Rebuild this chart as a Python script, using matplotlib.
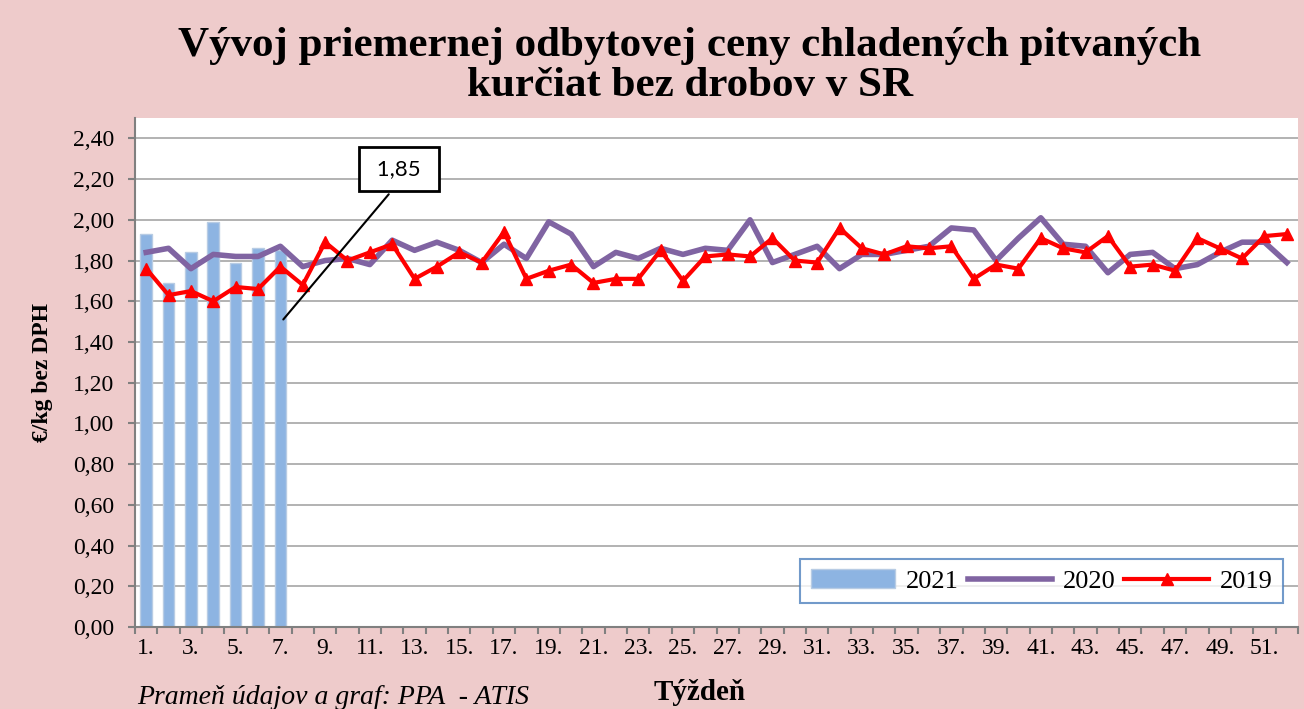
import matplotlib
matplotlib.use("Agg")
import matplotlib.pyplot as plt
from matplotlib.ticker import FuncFormatter, FixedLocator
import numpy as np

weeks = np.arange(1, 53)

# 2021 - stlpce (zatial 7 tyzdnov)
ceny_2021 = [1.93, 1.69, 1.84, 1.99, 1.79, 1.86, 1.85]

ceny_2020 = [1.84, 1.86, 1.76, 1.83, 1.82, 1.82, 1.87, 1.77, 1.80, 1.81,
             1.78, 1.90, 1.85, 1.89, 1.85, 1.79, 1.88, 1.81, 1.99, 1.93,
             1.77, 1.84, 1.81, 1.86, 1.83, 1.86, 1.85, 2.00, 1.79, 1.83,
             1.87, 1.76, 1.83, 1.83, 1.85, 1.87, 1.96, 1.95, 1.80, 1.91,
             2.01, 1.88, 1.87, 1.74, 1.83, 1.84, 1.76, 1.78, 1.84, 1.89,
             1.89, 1.79]

ceny_2019 = [1.76, 1.63, 1.65, 1.60, 1.67, 1.66, 1.77, 1.68, 1.89, 1.80,
             1.84, 1.88, 1.71, 1.77, 1.84, 1.79, 1.94, 1.71, 1.75, 1.78,
             1.69, 1.71, 1.71, 1.85, 1.70, 1.82, 1.83, 1.82, 1.91, 1.80,
             1.79, 1.96, 1.86, 1.83, 1.87, 1.86, 1.87, 1.71, 1.78, 1.76,
             1.91, 1.86, 1.84, 1.92, 1.77, 1.78, 1.75, 1.91, 1.86, 1.81,
             1.92, 1.93]

posledna = "1,85"

pink = "#EECBCB"
serif = "Liberation Serif"

fig = plt.figure(figsize=(13.04, 7.09), dpi=100, facecolor=pink)
ax = fig.add_axes([135/1304, 82/709, 1163/1304, 509/709])
ax.set_facecolor("white")

# stlpce a ciary
b = ax.bar(weeks[:len(ceny_2021)], ceny_2021, width=0.52, color="#8DB4E2",
           edgecolor="#B8CCE4", linewidth=1, zorder=2, label="2021")
l1, = ax.plot(weeks, ceny_2020, color="#8064A2", lw=4, zorder=3, label="2020")
l2, = ax.plot(weeks, ceny_2019, color="#FF0000", lw=3, marker="^", markersize=8,
              zorder=4, label="2019")

ax.set_xlim(0.5, 52.5)
ax.set_ylim(0, 2.5)
ax.set_yticks(np.arange(0, 2.41, 0.2))
ax.yaxis.set_major_formatter(FuncFormatter(lambda v, p: ("%.2f" % v).replace(".", ",")))
ax.grid(axis="y", color="#A6A6A6", lw=1.2, zorder=0)

# tick znacky medzi kategoriami, popisy kazdy druhy tyzden
ax.xaxis.set_major_locator(FixedLocator(np.arange(0.5, 53, 1)))
ax.set_xticklabels([])
ax.xaxis.set_minor_locator(FixedLocator(weeks[::2]))
ax.set_xticklabels(["%d." % w for w in weeks[::2]], minor=True)
ax.tick_params(axis="x", which="minor", length=0, pad=8, labelsize=17)
ax.tick_params(axis="x", which="major", length=5, color="#808080", width=1.5)
ax.tick_params(axis="y", length=5, color="#808080", width=1.5, labelsize=17, pad=10)
for lab in ax.get_xticklabels(minor=True) + ax.get_yticklabels():
    lab.set_fontfamily(serif)

for s in ["top", "right"]:
    ax.spines[s].set_visible(False)
for s in ["left", "bottom"]:
    ax.spines[s].set_color("#808080")
    ax.spines[s].set_linewidth(1.5)

ax.set_ylabel("€/kg bez DPH", fontfamily=serif, fontweight="bold", fontsize=17, labelpad=14)

fig.text(0.529, 1 - 66/709, "Vývoj priemernej odbytovej ceny chladených pitvaných\nkurčiat bez drobov v SR",
         ha="center", va="center", fontfamily=serif, fontweight="bold", fontsize=31,
         linespacing=1.05)

fig.text(137/1304, 1 - 697/709, "Prameň údajov a graf: PPA  - ATIS", ha="left", va="center",
         fontfamily=serif, style="italic", fontsize=20)
fig.text(700/1304, 1 - 693/709, "Týždeň", ha="center", va="center",
         fontfamily=serif, fontweight="bold", fontsize=21)

ax.annotate(" " + posledna + " ", xy=(7.05, 1.5), xytext=(12.3, 2.25),
            fontsize=16, fontfamily="Lato", ha="center", va="center",
            bbox=dict(boxstyle="square,pad=0.55", fc="white", ec="black", lw=2),
            arrowprops=dict(arrowstyle="-", color="black", lw=1.5, relpos=(0.55, 0)),
            zorder=6)

leg = ax.legend([b, l1, l2], ["2021", "2020", "2019"], loc="center",
                bbox_to_anchor=(0.572, 0.034, 0.415, 0.112),
                mode="expand", ncol=3, frameon=True, fancybox=False,
                prop={"family": serif, "size": 19}, handlelength=3.2,
                borderaxespad=0, handletextpad=0.4)
leg.get_frame().set_edgecolor("#4F81BD")
leg.get_frame().set_linewidth(1.5)
leg.set_zorder(7)

fig.savefig("out.png", dpi=100, facecolor=pink)
